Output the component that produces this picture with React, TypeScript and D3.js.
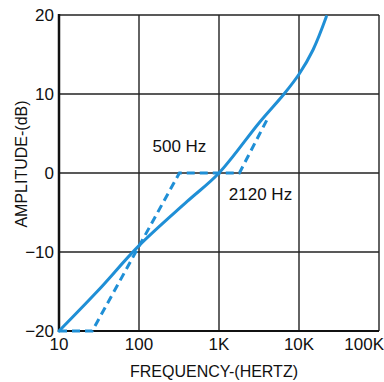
import React from "react";
import * as d3 from "d3";

const xTicks = [10, 100, 1000, 10000, 100000];
const xTickLabels = ["10", "100", "1K", "10K", "100K"];
const yTicks = [-20, -10, 0, 10, 20];
const yTickLabels = ["\u221220", "\u221210", "0", "10", "20"];

const solidFreq = [10, 30, 100, 400, 1000, 3200, 6500, 10000, 15000, 22000];
const solidAmp = [-20, -15, -9.2, -3.6, 0, 6.4, 10, 12.5, 15.6, 19.8];

const dashFreq = [10, 26, 320, 1800, 4200];
const dashAmp = [-20, -20, 0, 0, 7.2];

const annotations = [
  { text: "500 Hz", f: 320, a: 2.6 },
  { text: "2120 Hz", f: 3300, a: -3.4 },
];

const W = 384, H = 382;
const L = 59, R = 379, T = 15, B = 331;
const BLUE = "#1f8fd6";
const FONT = "'Liberation Sans', Arial, sans-serif";

export default function App() {
  const x = d3.scaleLog().domain([10, 100000]).range([L, R]);
  const y = d3.scaleLinear().domain([-20, 20]).range([B, T]);

  const line = d3
    .line<[number, number]>()
    .x((d) => x(d[0]))
    .y((d) => y(d[1]))
    .curve(d3.curveCatmullRom.alpha(0.5));
  const lineLin = d3
    .line<[number, number]>()
    .x((d) => x(d[0]))
    .y((d) => y(d[1]));

  const solid = solidFreq.map((f, i) => [f, solidAmp[i]] as [number, number]);
  const dash = dashFreq.map((f, i) => [f, dashAmp[i]] as [number, number]);

  return (
    <svg
      width={W}
      height={H}
      style={{ position: "absolute", left: 0, top: 0, background: "#fff" }}
      fontFamily={FONT}
    >
      {xTicks.map((t) => (
        <line key={"gx" + t} x1={x(t)} x2={x(t)} y1={T} y2={B} stroke="#222" strokeWidth={1.4} />
      ))}
      {yTicks.map((t) => (
        <line key={"gy" + t} x1={L} x2={R} y1={y(t)} y2={y(t)} stroke="#222" strokeWidth={1.4} />
      ))}
      <line x1={L} x2={L} y1={T - 1} y2={B + 1} stroke="#111" strokeWidth={2.5} />
      <line x1={L} x2={R} y1={B} y2={B} stroke="#111" strokeWidth={2} />

      <path d={lineLin(dash) || ""} fill="none" stroke={BLUE} strokeWidth={3} strokeDasharray="8,5" />
      <path d={line(solid) || ""} fill="none" stroke={BLUE} strokeWidth={3} strokeLinecap="round" />

      {annotations.map((a) => (
        <text key={a.text} x={x(a.f)} y={y(a.a)} fontSize={17} textAnchor="middle" fill="#111">
          {a.text}
        </text>
      ))}

      {yTicks.map((t, i) => (
        <text key={"yl" + t} x={54} y={y(t) + 6} fontSize={17} textAnchor="end" fill="#111">
          {yTickLabels[i]}
        </text>
      ))}
      {xTicks.map((t, i) => (
        <text
          key={"xl" + t}
          x={i === xTicks.length - 1 ? 384 : x(t)}
          y={350}
          fontSize={17}
          textAnchor={i === xTicks.length - 1 ? "end" : "middle"}
          fill="#111"
        >
          {xTickLabels[i]}
        </text>
      ))}

      <text x={214} y={377} fontSize={16} textAnchor="middle" fill="#111">
        FREQUENCY-(HERTZ)
      </text>
      <text transform={`translate(27,164) rotate(-90)`} fontSize={16} textAnchor="middle" fill="#111">
        AMPLITUDE-(dB)
      </text>
    </svg>
  );
}
